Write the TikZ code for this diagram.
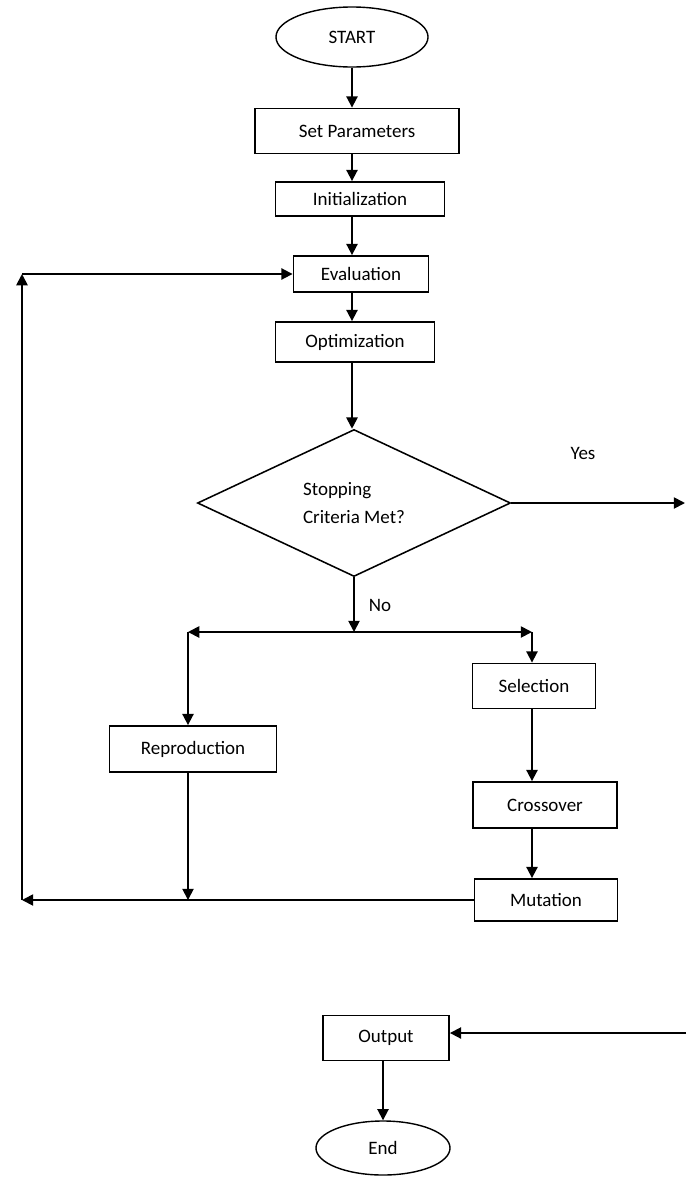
\documentclass[tikz,border=0pt]{standalone}
\usepackage{fontspec}
\setmainfont{Carlito}
\usetikzlibrary{arrows.meta,positioning,shapes.geometric}

\begin{document}
\begin{tikzpicture}[x=0.025cm,y=-0.025cm,font=\fontsize{13.5}{16}\selectfont,
    line width=1.3pt,>={Triangle[length=8pt,width=8pt]},
    pbox/.style={draw,rectangle,inner sep=2pt,align=center},
    term/.style={draw,ellipse,line width=1pt,inner sep=0pt},
    decide/.style={draw,diamond,line width=1.1pt,inner sep=0pt,align=left}]
  \useasboundingbox (0,0) rectangle (686,1178);
  % main column
  \node[term,minimum width=3.8cm,minimum height=1.5cm]  (start) at (352,37) {START};
  \node[pbox,minimum width=5.1cm,minimum height=1.125cm] (setp) at (357,131) {Set Parameters};
  \node[pbox,minimum width=4.225cm,minimum height=0.85cm] (init) at (360,199) {Initialization};
  \node[pbox,minimum width=3.375cm,minimum height=0.9cm] (eval) at (361,274) {Evaluation};
  \node[pbox,minimum width=3.975cm,minimum height=1cm] (optim) at (355,342) {Optimization};
  \node[decide,minimum width=7.825cm,minimum height=3.675cm] (stop) at (354,503)
    {Stopping\\[4pt]Criteria Met?};
  % branches
  \node[pbox,minimum width=3.075cm,minimum height=1.125cm] (sel) at (534,686) {Selection};
  \node[pbox,minimum width=4.175cm,minimum height=1.15cm] (repro) at (193,749) {Reproduction};
  \node[pbox,minimum width=3.6cm,minimum height=1.15cm] (cross) at (545,805) {Crossover};
  \node[pbox,minimum width=3.575cm,minimum height=1.05cm] (mut) at (546,900) {Mutation};
  % exit
  \node[pbox,minimum width=3.15cm,minimum height=1.125cm] (output) at (386,1038) {Output};
  \node[term,minimum width=3.35cm,minimum height=1.35cm] (end) at (383,1148) {End};

  \node (yes) at (583,453) {Yes};
  \node (no) at (380,605) {No};

  \coordinate (split) at (354,632);
  \coordinate (lsplit) at (188,632);
  \coordinate (rsplit) at (532,632);
  \coordinate (retl) at (22,900);
  \coordinate (topl) at (22,274);
  \coordinate (yesend) at (685,505);
  \coordinate (outsrc) at (686,1033);

  \draw[->] (start.south) -- (start.south |- setp.north);
  \draw[->] (setp.south -| start.south) -- (start.south |- init.north);
  \draw[->] (init.south -| start.south) -- (start.south |- eval.north);
  \draw[->] (eval.south -| start.south) -- (start.south |- optim.north);
  \draw[->] (optim.south -| start.south) -- (start.south |- stop.north);
  \draw[->] (stop.east) -- (stop.east -| yesend);
  \draw[->] (stop.south) -- (split);
  \draw[->] (split) -- (lsplit);
  \draw[->] (split) -- (rsplit);
  \draw[->] (lsplit) -- (lsplit |- repro.north);
  \draw[->] (rsplit) -- (rsplit |- sel.north);
  \draw[->] (sel.south -| rsplit) -- (rsplit |- cross.north);
  \draw[->] (cross.south -| rsplit) -- (rsplit |- mut.north);
  \draw[->] (mut.west) -- (retl);
  \draw[->] (repro.south -| lsplit) -- (lsplit |- retl);
  \draw[->] (retl) -- (topl);
  \draw[->] (topl) -- (eval.west);
  \draw[->] (outsrc) -- (outsrc -| output.east);
  \draw[->] (output.south -| end.north) -- (end.north);
\end{tikzpicture}
\end{document}
